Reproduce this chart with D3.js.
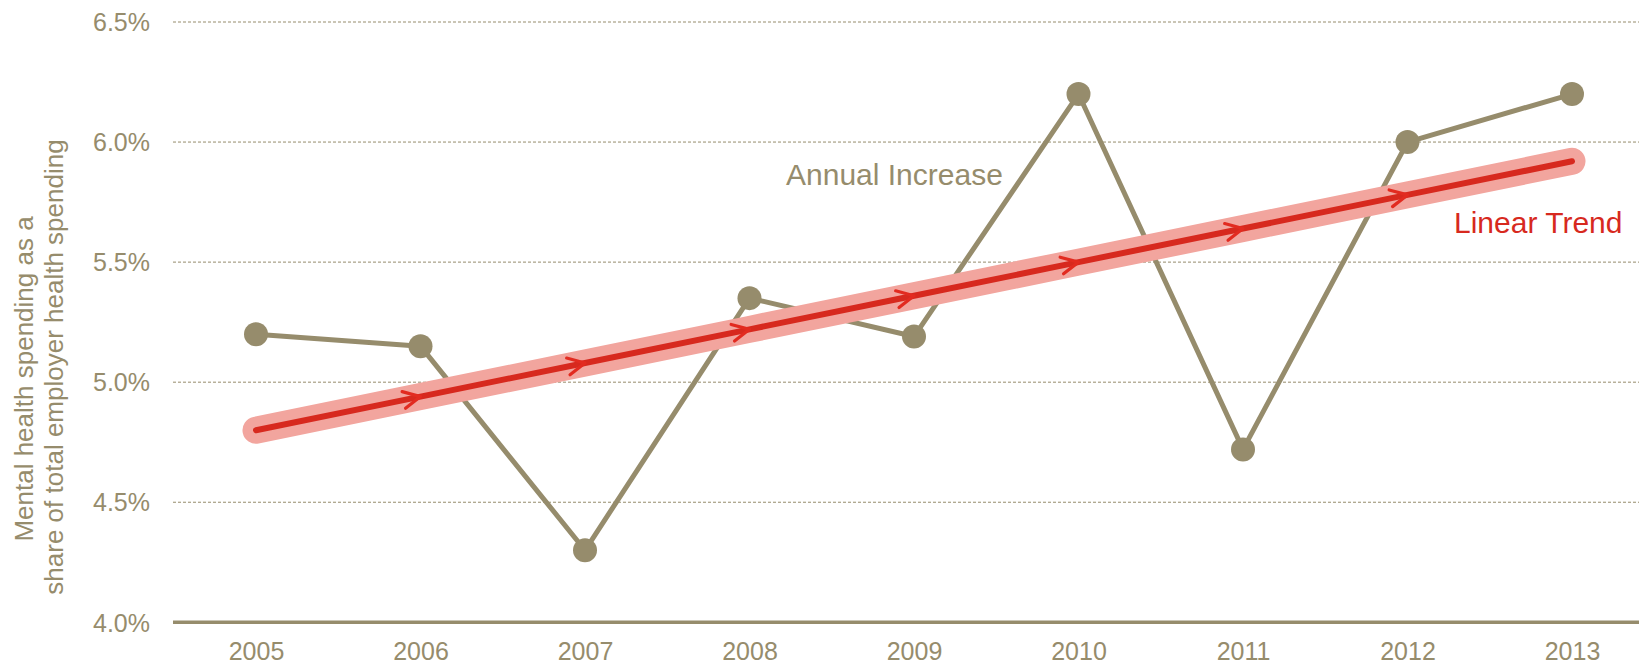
<!DOCTYPE html>
<html>
<head>
<meta charset="utf-8">
<script src="https://cdn.jsdelivr.net/npm/d3@7"></script>
<style>
  html, body { margin: 0; padding: 0; background: #fff; }
  svg { display: block; font-family: "Liberation Sans", Arial, Helvetica, sans-serif; }
</style>
</head>
<body>
<svg id="chart" width="1639" height="664"></svg>
<script>
// ---- data ----
const years = [2005, 2006, 2007, 2008, 2009, 2010, 2011, 2012, 2013];
const annualShare = [5.20, 5.15, 4.30, 5.35, 5.19, 6.20, 4.72, 6.00, 6.20];
const trendShare = [4.80, 4.94, 5.08, 5.22, 5.36, 5.50, 5.64, 5.78, 5.92];
const yTicks = [4.0, 4.5, 5.0, 5.5, 6.0, 6.5];
const yTitleLines = ["Mental health spending as a", "share of total employer health spending"];
const seriesLabels = ["Annual Increase", "Linear Trend"];

// ---- style ----
const TAN = "#968c6c";
const RED = "#d7291e";
const ARROW = "#e22b20";
const PINK = "#f2a59e";

const W = 1639, H = 664;
const svg = d3.select("#chart");

const x = d3.scaleLinear().domain([2005, 2013]).range([256, 1572]);
const y = d3.scaleLinear().domain([4.0, 6.5]).range([622.3, 22]);
const gridLeft = 173;

// y tick labels
const yAxis = d3.axisLeft(y).tickValues(yTicks).tickFormat(d => d.toFixed(1) + "%").tickSize(0).tickPadding(0);
const gAxis = svg.append("g").attr("transform", `translate(150,0)`).call(yAxis);
gAxis.select(".domain").remove();
gAxis.selectAll("text")
  .attr("fill", TAN).attr("font-size", 25).attr("dy", "0.35em")
  .attr("font-family", "Liberation Sans, Arial, sans-serif");

// dashed grid lines
svg.append("g").selectAll("line")
  .data(yTicks.filter(d => d > 4.0))
  .join("line")
  .attr("x1", gridLeft).attr("x2", W)
  .attr("y1", d => y(d)).attr("y2", d => y(d))
  .attr("stroke", TAN).attr("stroke-width", 1)
  .attr("stroke-dasharray", "3,2");

// baseline
svg.append("line")
  .attr("x1", gridLeft).attr("x2", W)
  .attr("y1", y(4.0)).attr("y2", y(4.0))
  .attr("stroke", TAN).attr("stroke-width", 3.4);

// x axis labels
const xAxis = d3.axisBottom(x).tickValues(years).tickFormat(d3.format("d")).tickSize(0).tickPadding(0);
const gx = svg.append("g").attr("transform", `translate(0,${y(4.0)})`).call(xAxis);
gx.select(".domain").remove();
gx.selectAll("text")
  .attr("fill", TAN).attr("font-size", 25)
  .attr("y", 38).attr("dy", 0)
  .attr("font-family", "Liberation Sans, Arial, sans-serif");

// y title
const titleX = [33, 63];
const titleC = [379, 367];
yTitleLines.forEach((t, i) => {
  svg.append("text")
    .attr("transform", `translate(${titleX[i]},${titleC[i]}) rotate(-90)`)
    .attr("text-anchor", "middle")
    .attr("fill", TAN).attr("font-size", 26)
    .text(t);
});

// annual series
const pts = years.map((yr, i) => [x(yr), y(annualShare[i])]);
svg.append("path")
  .attr("d", d3.line()(pts))
  .attr("fill", "none").attr("stroke", TAN).attr("stroke-width", 5)
  .attr("stroke-linejoin", "round");
svg.append("g").selectAll("circle")
  .data(years)
  .join("circle")
  .attr("cx", d => x(d))
  .attr("cy", (d, i) => y(annualShare[i]))
  .attr("r", 12)
  .attr("fill", TAN);

// trend line
const defs = svg.append("defs");
defs.append("marker")
  .attr("id", "arrow")
  .attr("markerUnits", "userSpaceOnUse")
  .attr("viewBox", "-22 -12 24 24")
  .attr("markerWidth", 24).attr("markerHeight", 24)
  .attr("refX", 0).attr("refY", 0)
  .attr("orient", "auto")
  .style("overflow", "visible")
  .append("path")
  .attr("d", "M-17,-8.5 L0,0 L-17,8.5")
  .attr("fill", "none").attr("stroke", ARROW).attr("stroke-width", 3.2)
  .attr("stroke-linecap", "round").attr("stroke-linejoin", "round");

const tpts = years.map((yr, i) => [x(yr), y(trendShare[i])]);
svg.append("path")
  .attr("d", d3.line()(tpts))
  .attr("fill", "none").attr("stroke", PINK).attr("stroke-width", 27)
  .attr("stroke-linecap", "round").attr("stroke-linejoin", "round");
svg.append("path")
  .attr("d", d3.line()(tpts))
  .attr("fill", "none").attr("stroke", RED).attr("stroke-width", 6)
  .attr("stroke-linecap", "round").attr("stroke-linejoin", "round")
  .attr("marker-mid", "url(#arrow)");

// series labels
svg.append("text")
  .attr("x", 786).attr("y", 184.5)
  .attr("fill", TAN).attr("font-size", 30)
  .text(seriesLabels[0]);
svg.append("text")
  .attr("x", 1454).attr("y", 233)
  .attr("fill", RED).attr("font-size", 30)
  .text(seriesLabels[1]);
</script>
</body>
</html>
